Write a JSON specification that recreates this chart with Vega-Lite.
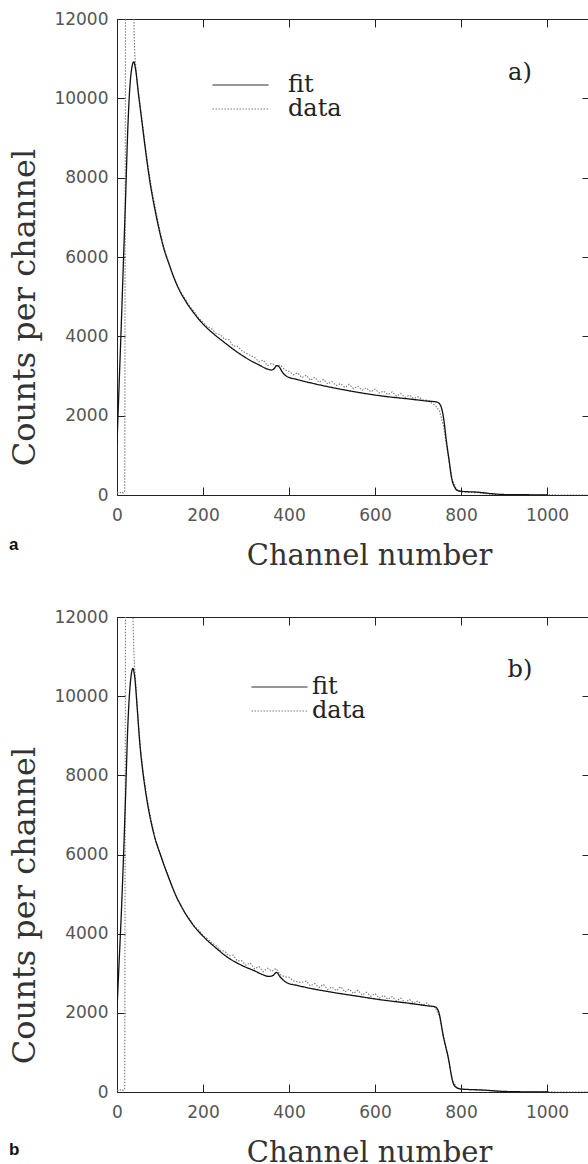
{
  "$schema": "https://vega.github.io/schema/vega-lite/v6.json",
  "background": "white",
  "padding": {"left": 8, "top": 10, "right": 0, "bottom": 0},
  "spacing": 38,
  "config": {
    "view": {"stroke": null},
    "axis": {"domainColor": "#222", "tickColor": "#222", "grid": false, "labelFont": "DejaVu Sans", "labelFontSize": 17, "labelColor": "#555", "titleFont": "DejaVu Serif", "titleFontWeight": "normal", "titleColor": "#333", "labelFlush": false, "tickSize": -8, "labelPadding": 17, "domainWidth": 1, "tickWidth": 1, "format": "d"},
    "legend": {"title": null, "symbolType": "stroke", "symbolSize": 3136, "labelFont": "DejaVu Serif", "labelFontSize": 24, "labelColor": "#222", "clipHeight": 24, "rowPadding": 0, "symbolStrokeWidth": 1, "padding": 0}
  },
  "resolve": {"scale": {"color": "independent", "strokeDash": "independent"}, "legend": {"color": "independent", "strokeDash": "independent"}},
  "datasets": {
    "a_fit": [
      {"ch": 0, "counts": 1300}, {"ch": 5, "counts": 2800}, {"ch": 10, "counts": 4300}, {"ch": 15, "counts": 5900}, {"ch": 20, "counts": 7500}, {"ch": 25, "counts": 9200}, {"ch": 30, "counts": 10300}, {"ch": 35, "counts": 10800}, {"ch": 39, "counts": 10920}, {"ch": 43, "counts": 10750}, {"ch": 50, "counts": 10100}, {"ch": 57, "counts": 9500}, {"ch": 65, "counts": 8800}, {"ch": 77, "counts": 7870}, {"ch": 90, "counts": 7100}, {"ch": 108, "counts": 6250}, {"ch": 123, "counts": 5760}, {"ch": 140, "counts": 5280}, {"ch": 160, "counts": 4880}, {"ch": 180, "counts": 4570}, {"ch": 201, "counts": 4300}, {"ch": 225, "counts": 4060}, {"ch": 247, "counts": 3870}, {"ch": 280, "counts": 3600}, {"ch": 309, "counts": 3400}, {"ch": 330, "counts": 3280}, {"ch": 350, "counts": 3175}, {"ch": 360, "counts": 3150}, {"ch": 366, "counts": 3190}, {"ch": 371, "counts": 3260}, {"ch": 377, "counts": 3230}, {"ch": 385, "counts": 3090}, {"ch": 395, "counts": 2990}, {"ch": 420, "counts": 2910}, {"ch": 449, "counts": 2830}, {"ch": 500, "counts": 2710}, {"ch": 565, "counts": 2580}, {"ch": 620, "counts": 2490}, {"ch": 680, "counts": 2420}, {"ch": 720, "counts": 2370}, {"ch": 743, "counts": 2345}, {"ch": 750, "counts": 2300}, {"ch": 755, "counts": 2180}, {"ch": 760, "counts": 1900}, {"ch": 766, "counts": 1360}, {"ch": 772, "counts": 900}, {"ch": 778, "counts": 436}, {"ch": 785, "counts": 200}, {"ch": 792, "counts": 115}, {"ch": 800, "counts": 95}, {"ch": 840, "counts": 70}, {"ch": 870, "counts": 35}, {"ch": 900, "counts": 12}, {"ch": 950, "counts": 6}, {"ch": 1000, "counts": 5}
    ],
    "a_data": [
      {"ch": 0, "counts": 60}, {"ch": 5, "counts": 40}, {"ch": 10, "counts": 80}, {"ch": 15, "counts": 50}, {"ch": 18, "counts": 100}, {"ch": 20, "counts": 14000}, {"ch": 25, "counts": 18000}, {"ch": 30, "counts": 18000}, {"ch": 35, "counts": 15000}, {"ch": 38, "counts": 12500}, {"ch": 41, "counts": 11200}, {"ch": 45, "counts": 10600}, {"ch": 50, "counts": 10150}, {"ch": 55, "counts": 9700}, {"ch": 60, "counts": 9300}, {"ch": 70, "counts": 8450}, {"ch": 80, "counts": 7750}, {"ch": 90, "counts": 7180}, {"ch": 100, "counts": 6650}, {"ch": 110, "counts": 6200}, {"ch": 120, "counts": 5870}, {"ch": 130, "counts": 5520}, {"ch": 140, "counts": 5300}, {"ch": 150, "counts": 5080}, {"ch": 160, "counts": 4920}, {"ch": 170, "counts": 4740}, {"ch": 180, "counts": 4620}, {"ch": 190, "counts": 4450}, {"ch": 200, "counts": 4360}, {"ch": 210, "counts": 4240}, {"ch": 220, "counts": 4190}, {"ch": 230, "counts": 4080}, {"ch": 240, "counts": 4040}, {"ch": 250, "counts": 3930}, {"ch": 260, "counts": 3920}, {"ch": 270, "counts": 3760}, {"ch": 280, "counts": 3750}, {"ch": 290, "counts": 3640}, {"ch": 300, "counts": 3580}, {"ch": 310, "counts": 3520}, {"ch": 320, "counts": 3470}, {"ch": 330, "counts": 3360}, {"ch": 340, "counts": 3400}, {"ch": 350, "counts": 3260}, {"ch": 360, "counts": 3320}, {"ch": 370, "counts": 3260}, {"ch": 380, "counts": 3270}, {"ch": 390, "counts": 3160}, {"ch": 400, "counts": 3120}, {"ch": 410, "counts": 3030}, {"ch": 420, "counts": 3080}, {"ch": 430, "counts": 2960}, {"ch": 440, "counts": 3020}, {"ch": 450, "counts": 2890}, {"ch": 460, "counts": 2970}, {"ch": 470, "counts": 2840}, {"ch": 480, "counts": 2910}, {"ch": 490, "counts": 2800}, {"ch": 500, "counts": 2860}, {"ch": 510, "counts": 2760}, {"ch": 520, "counts": 2810}, {"ch": 530, "counts": 2710}, {"ch": 540, "counts": 2790}, {"ch": 550, "counts": 2680}, {"ch": 560, "counts": 2740}, {"ch": 570, "counts": 2640}, {"ch": 580, "counts": 2700}, {"ch": 590, "counts": 2600}, {"ch": 600, "counts": 2670}, {"ch": 610, "counts": 2570}, {"ch": 620, "counts": 2620}, {"ch": 630, "counts": 2530}, {"ch": 640, "counts": 2600}, {"ch": 650, "counts": 2490}, {"ch": 660, "counts": 2560}, {"ch": 670, "counts": 2460}, {"ch": 680, "counts": 2520}, {"ch": 690, "counts": 2430}, {"ch": 700, "counts": 2480}, {"ch": 710, "counts": 2400}, {"ch": 720, "counts": 2390}, {"ch": 730, "counts": 2330}, {"ch": 740, "counts": 2260}, {"ch": 750, "counts": 2120}, {"ch": 760, "counts": 1700}, {"ch": 770, "counts": 1000}, {"ch": 780, "counts": 380}, {"ch": 790, "counts": 130}, {"ch": 800, "counts": 80}, {"ch": 820, "counts": 65}, {"ch": 840, "counts": 55}, {"ch": 860, "counts": 30}, {"ch": 880, "counts": 10}, {"ch": 900, "counts": 5}, {"ch": 950, "counts": 0}, {"ch": 1000, "counts": 3}, {"ch": 1050, "counts": 0}, {"ch": 1100, "counts": 2}
    ],
    "b_fit": [
      {"ch": 0, "counts": 2100}, {"ch": 5, "counts": 3300}, {"ch": 10, "counts": 4500}, {"ch": 15, "counts": 5900}, {"ch": 20, "counts": 7500}, {"ch": 25, "counts": 9200}, {"ch": 30, "counts": 10200}, {"ch": 34, "counts": 10600}, {"ch": 37, "counts": 10700}, {"ch": 41, "counts": 10500}, {"ch": 47, "counts": 9700}, {"ch": 53, "counts": 8810}, {"ch": 60, "counts": 8100}, {"ch": 70, "counts": 7350}, {"ch": 85, "counts": 6550}, {"ch": 104, "counts": 5900}, {"ch": 120, "counts": 5420}, {"ch": 135, "counts": 5010}, {"ch": 150, "counts": 4680}, {"ch": 175, "counts": 4250}, {"ch": 201, "counts": 3925}, {"ch": 230, "counts": 3640}, {"ch": 255, "counts": 3420}, {"ch": 290, "counts": 3200}, {"ch": 320, "counts": 3060}, {"ch": 340, "counts": 2960}, {"ch": 352, "counts": 2920}, {"ch": 362, "counts": 2940}, {"ch": 371, "counts": 3020}, {"ch": 380, "counts": 2900}, {"ch": 395, "counts": 2760}, {"ch": 420, "counts": 2690}, {"ch": 449, "counts": 2620}, {"ch": 500, "counts": 2520}, {"ch": 565, "counts": 2410}, {"ch": 620, "counts": 2320}, {"ch": 680, "counts": 2240}, {"ch": 720, "counts": 2180}, {"ch": 740, "counts": 2150}, {"ch": 748, "counts": 2030}, {"ch": 759, "counts": 1400}, {"ch": 770, "counts": 890}, {"ch": 782, "counts": 220}, {"ch": 790, "counts": 110}, {"ch": 800, "counts": 75}, {"ch": 850, "counts": 50}, {"ch": 900, "counts": 15}, {"ch": 950, "counts": 5}, {"ch": 1000, "counts": 5}
    ],
    "b_data": [
      {"ch": 0, "counts": 50}, {"ch": 5, "counts": 30}, {"ch": 10, "counts": 70}, {"ch": 15, "counts": 40}, {"ch": 18, "counts": 90}, {"ch": 20, "counts": 14000}, {"ch": 25, "counts": 18000}, {"ch": 30, "counts": 17000}, {"ch": 34, "counts": 14000}, {"ch": 37, "counts": 12000}, {"ch": 40, "counts": 10900}, {"ch": 45, "counts": 10100}, {"ch": 50, "counts": 9250}, {"ch": 55, "counts": 8650}, {"ch": 60, "counts": 8150}, {"ch": 70, "counts": 7400}, {"ch": 80, "counts": 6830}, {"ch": 90, "counts": 6350}, {"ch": 100, "counts": 6030}, {"ch": 110, "counts": 5700}, {"ch": 120, "counts": 5450}, {"ch": 130, "counts": 5160}, {"ch": 140, "counts": 4860}, {"ch": 150, "counts": 4700}, {"ch": 160, "counts": 4480}, {"ch": 170, "counts": 4350}, {"ch": 180, "counts": 4180}, {"ch": 190, "counts": 4090}, {"ch": 200, "counts": 3950}, {"ch": 210, "counts": 3880}, {"ch": 220, "counts": 3770}, {"ch": 230, "counts": 3700}, {"ch": 240, "counts": 3580}, {"ch": 250, "counts": 3560}, {"ch": 260, "counts": 3440}, {"ch": 270, "counts": 3460}, {"ch": 280, "counts": 3310}, {"ch": 290, "counts": 3320}, {"ch": 300, "counts": 3200}, {"ch": 310, "counts": 3260}, {"ch": 320, "counts": 3110}, {"ch": 330, "counts": 3170}, {"ch": 340, "counts": 3040}, {"ch": 350, "counts": 3130}, {"ch": 360, "counts": 3050}, {"ch": 370, "counts": 3120}, {"ch": 380, "counts": 2960}, {"ch": 390, "counts": 2910}, {"ch": 400, "counts": 2900}, {"ch": 410, "counts": 2810}, {"ch": 420, "counts": 2780}, {"ch": 430, "counts": 2770}, {"ch": 440, "counts": 2800}, {"ch": 450, "counts": 2680}, {"ch": 460, "counts": 2740}, {"ch": 470, "counts": 2640}, {"ch": 480, "counts": 2720}, {"ch": 490, "counts": 2590}, {"ch": 500, "counts": 2650}, {"ch": 510, "counts": 2560}, {"ch": 520, "counts": 2660}, {"ch": 530, "counts": 2530}, {"ch": 540, "counts": 2600}, {"ch": 550, "counts": 2490}, {"ch": 560, "counts": 2570}, {"ch": 570, "counts": 2450}, {"ch": 580, "counts": 2520}, {"ch": 590, "counts": 2420}, {"ch": 600, "counts": 2490}, {"ch": 610, "counts": 2370}, {"ch": 620, "counts": 2440}, {"ch": 630, "counts": 2340}, {"ch": 640, "counts": 2410}, {"ch": 650, "counts": 2300}, {"ch": 660, "counts": 2370}, {"ch": 670, "counts": 2260}, {"ch": 680, "counts": 2340}, {"ch": 690, "counts": 2240}, {"ch": 700, "counts": 2300}, {"ch": 710, "counts": 2190}, {"ch": 720, "counts": 2250}, {"ch": 730, "counts": 2160}, {"ch": 740, "counts": 2140}, {"ch": 750, "counts": 1900}, {"ch": 760, "counts": 1380}, {"ch": 770, "counts": 880}, {"ch": 780, "counts": 300}, {"ch": 790, "counts": 110}, {"ch": 800, "counts": 75}, {"ch": 820, "counts": 60}, {"ch": 840, "counts": 50}, {"ch": 860, "counts": 40}, {"ch": 880, "counts": 20}, {"ch": 900, "counts": 8}, {"ch": 950, "counts": 2}, {"ch": 1000, "counts": 3}, {"ch": 1050, "counts": 0}, {"ch": 1100, "counts": 2}
    ]
  },
  "vconcat": [
    {
      "width": 473, "height": 476,
      "title": {"text": "a", "orient": "bottom", "anchor": "start", "frame": "bounds", "font": "Liberation Sans", "fontWeight": "bold", "fontSize": 17, "color": "#111", "offset": -33},
      "resolve": {"axis": {"x": "independent", "y": "independent"}},
      "layer": [
        {
          "data": {"name": "a_data"},
          "mark": {"type": "line", "clip": true, "strokeWidth": 1.1},
          "encoding": {
            "x": {"field": "ch", "type": "quantitative", "scale": {"domain": [0, 1100], "nice": false}, "axis": {"orient": "bottom", "values": [0, 200, 400, 600, 800, 1000], "title": "Channel number", "titleFontSize": 29, "labelPadding": 20, "titlePadding": 18, "titleX": 252}},
            "y": {"field": "counts", "type": "quantitative", "scale": {"domain": [0, 12000], "nice": false}, "axis": {"orient": "left", "values": [0, 2000, 4000, 6000, 8000, 10000, 12000], "title": "Counts per channel", "titleFontSize": 32, "titlePadding": 12, "titleY": 288}},
            "color": {"datum": "data", "type": "nominal", "scale": {"domain": ["fit", "data"], "range": ["#111111", "#7a7a7a"]}, "legend": {"orient": "none", "legendX": 95, "legendY": 54, "labelOffset": 19}},
            "strokeDash": {"datum": "data", "type": "nominal", "scale": {"domain": ["fit", "data"], "range": [[1, 0], [1.5, 1.5]]}, "legend": {"orient": "none", "legendX": 95, "legendY": 54, "labelOffset": 19}}
          }
        },
        {
          "data": {"name": "a_fit"},
          "mark": {"type": "line", "clip": true, "strokeWidth": 1.3, "interpolate": "monotone"},
          "encoding": {
            "x": {"field": "ch", "type": "quantitative", "axis": {"orient": "top", "values": [0, 200, 400, 600, 800, 1000], "labels": false, "title": null}},
            "y": {"field": "counts", "type": "quantitative", "axis": {"orient": "right", "values": [0, 2000, 4000, 6000, 8000, 10000, 12000], "labels": false, "title": null}},
            "color": {"datum": "fit", "type": "nominal"},
            "strokeDash": {"datum": "fit", "type": "nominal"}
          }
        },
        {
          "data": {"values": [{"label": "a)"}]},
          "mark": {"type": "text", "font": "DejaVu Serif", "fontSize": 24, "color": "#222", "align": "center", "baseline": "middle"},
          "encoding": {
            "x": {"datum": 937, "type": "quantitative", "axis": null},
            "y": {"datum": 10640, "type": "quantitative", "axis": null},
            "text": {"field": "label"}
          }
        }
      ]
    },
    {
      "width": 473, "height": 475,
      "title": {"text": "b", "orient": "bottom", "anchor": "start", "frame": "bounds", "font": "Liberation Sans", "fontWeight": "bold", "fontSize": 17, "color": "#111", "offset": -25},
      "resolve": {"axis": {"x": "independent", "y": "independent"}},
      "layer": [
        {
          "data": {"name": "b_data"},
          "mark": {"type": "line", "clip": true, "strokeWidth": 1.1},
          "encoding": {
            "x": {"field": "ch", "type": "quantitative", "scale": {"domain": [0, 1100], "nice": false}, "axis": {"orient": "bottom", "values": [0, 200, 400, 600, 800, 1000], "title": "Channel number", "titleFontSize": 29, "labelPadding": 20, "titlePadding": 18, "titleX": 252}},
            "y": {"field": "counts", "type": "quantitative", "scale": {"domain": [0, 12000], "nice": false}, "axis": {"orient": "left", "values": [0, 2000, 4000, 6000, 8000, 10000, 12000], "title": "Counts per channel", "titleFontSize": 32, "titlePadding": 12, "titleY": 288}},
            "color": {"datum": "data", "type": "nominal", "scale": {"domain": ["fit", "data"], "range": ["#111111", "#7a7a7a"]}, "legend": {"orient": "none", "legendX": 134, "legendY": 58, "labelOffset": 4, "rowPadding": -1}},
            "strokeDash": {"datum": "data", "type": "nominal", "scale": {"domain": ["fit", "data"], "range": [[1, 0], [1.5, 1.5]]}, "legend": {"orient": "none", "legendX": 134, "legendY": 58, "labelOffset": 4, "rowPadding": -1}}
          }
        },
        {
          "data": {"name": "b_fit"},
          "mark": {"type": "line", "clip": true, "strokeWidth": 1.3, "interpolate": "monotone"},
          "encoding": {
            "x": {"field": "ch", "type": "quantitative", "axis": {"orient": "top", "values": [0, 200, 400, 600, 800, 1000], "labels": false, "title": null}},
            "y": {"field": "counts", "type": "quantitative", "axis": {"orient": "right", "values": [0, 2000, 4000, 6000, 8000, 10000, 12000], "labels": false, "title": null}},
            "color": {"datum": "fit", "type": "nominal"},
            "strokeDash": {"datum": "fit", "type": "nominal"}
          }
        },
        {
          "data": {"values": [{"label": "b)"}]},
          "mark": {"type": "text", "font": "DejaVu Serif", "fontSize": 24, "color": "#222", "align": "center", "baseline": "middle"},
          "encoding": {
            "x": {"datum": 937, "type": "quantitative", "axis": null},
            "y": {"datum": 10660, "type": "quantitative", "axis": null},
            "text": {"field": "label"}
          }
        }
      ]
    }
  ]
}
